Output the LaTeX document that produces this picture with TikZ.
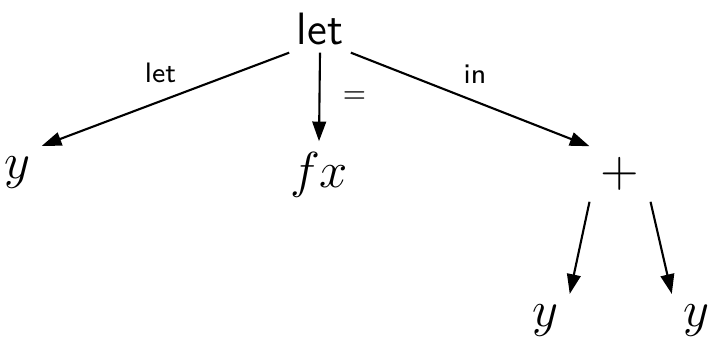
\documentclass[tikz,border=0pt]{standalone}
\usepackage{amsmath}
\usepackage{tikz}
\usetikzlibrary{arrows.meta}

\begin{document}
\begin{tikzpicture}[
    treenode/.style={inner sep=3pt, font=\fontsize{14.4}{17}\selectfont},
    rootnode/.style={inner sep=2pt, font=\sffamily\fontsize{12.9}{15}\selectfont},
    edgelabel/.style={font=\sffamily\fontsize{8}{9}\selectfont},
    arrow/.style={-{Triangle[length=5.6pt,width=3.9pt]}, semithick}
]
    \useasboundingbox (0,0) rectangle (7.08,-3.42);

    % Root
    \node[rootnode] (root) at (3.20,-0.29) {let};

    % First level
    \node[treenode] (yleft) at (0.175,-1.73) {$y$};
    \node[treenode] (fx) at (3.19,-1.75) {$fx$};
    \node[treenode] (plus) at (6.20,-1.74) {$+$};

    % Second level
    \node[treenode] (ybotl) at (5.455,-3.21) {$y$};
    \node[treenode] (ybotr) at (6.96,-3.21) {$y$};

    \draw[arrow] (root.south west) -- node[edgelabel, above=1.5pt, pos=0.52] (letlbl) {let} (yleft.north east);
    \draw[arrow] (root.south) -- node[edgelabel, right=3pt] (eqlbl) {=} (fx.north);
    \draw[arrow] (root.south east) -- node[edgelabel, above=1.5pt, pos=0.52] (inlbl) {in} (plus.north west);

    \draw[arrow] (plus.south west) -- (ybotl.north east);
    \draw[arrow] (plus.south east) -- (ybotr.north west);
\end{tikzpicture}
\end{document}
